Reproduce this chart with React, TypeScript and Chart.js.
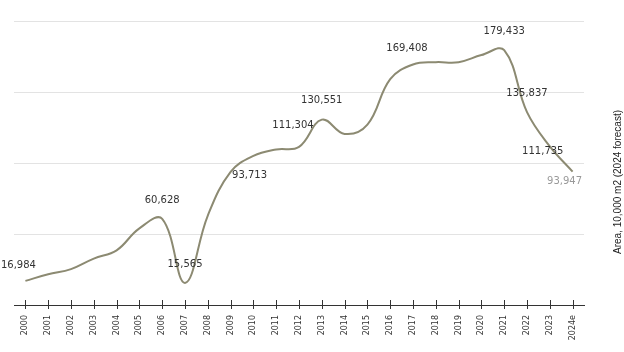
import { useEffect, useRef } from "react";
import { Chart, registerables } from "chart.js";

Chart.register(...registerables);

const years = [
  "2000", "2001", "2002", "2003", "2004", "2005", "2006", "2007", "2008", "2009",
  "2010", "2011", "2012", "2013", "2014", "2015", "2016", "2017", "2018", "2019",
  "2020", "2021", "2022", "2023", "2024e",
];
const areaValues = [
  16984, 21600, 25300, 32700, 38500, 54000, 60628, 15565, 63000, 93713,
  105000, 109500, 111304, 130551, 120500, 127000, 159000, 169408, 171000, 171000,
  176000, 179433, 135837, 111735, 93947,
];
const labeledYears = ["2000", "2006", "2007", "2009", "2012", "2013", "2017", "2021", "2022", "2023", "2024e"];
const yMin = 0;
const yMax = 200000;
const yStep = 50000;
const axisTitle = "Area, 10,000 m2 (2024 forecast)";

const labelOffsets: Record<string, { dx: number; dy: number }> = {
  "2000": { dx: -7, dy: -15 },
  "2006": { dx: 0, dy: -19 },
  "2007": { dx: 0, dy: -18 },
  "2009": { dx: 19, dy: 3 },
  "2012": { dx: -6, dy: -22 },
  "2013": { dx: 0, dy: -19 },
  "2017": { dx: -6, dy: -16 },
  "2021": { dx: 0, dy: -19 },
  "2022": { dx: 0, dy: -19 },
  "2023": { dx: -7, dy: 5 },
  "2024e": { dx: -8, dy: 10 },
};

const decorPlugin = {
  id: "decor",
  afterDraw(chart: any) {
    const ctx = chart.ctx;
    const area = chart.chartArea;
    const xs = chart.scales.x;
    ctx.save();
    ctx.strokeStyle = "#333";
    ctx.lineWidth = 1;
    years.forEach((_, i) => {
      const px = Math.round(xs.getPixelForValue(i)) + 0.5;
      ctx.beginPath();
      ctx.moveTo(px, area.bottom - 5);
      ctx.lineTo(px, area.bottom + 4);
      ctx.stroke();
    });
    const meta = chart.getDatasetMeta(0);
    ctx.font = '10px "DejaVu Sans"';
    ctx.textAlign = "center";
    ctx.textBaseline = "middle";
    labeledYears.forEach((y) => {
      const i = years.indexOf(y);
      const pt = meta.data[i];
      const off = labelOffsets[y] || { dx: 0, dy: -18 };
      ctx.fillStyle = y === "2024e" ? "#999" : "#333";
      ctx.fillText(areaValues[i].toLocaleString("en-US"), pt.x + off.dx, pt.y + off.dy);
    });
    ctx.font = '10px "Liberation Sans", Arial, sans-serif';
    ctx.fillStyle = "#222";
    ctx.translate(chart.width - 6, area.top + 161);
    ctx.rotate(-Math.PI / 2);
    ctx.fillText(axisTitle, 0, 0);
    ctx.restore();
  },
};

export default function App() {
  const ref = useRef<HTMLCanvasElement | null>(null);
  useEffect(() => {
    if (!ref.current) return;
    const chart = new Chart(ref.current, {
      type: "line",
      data: {
        labels: years,
        datasets: [
          {
            data: areaValues,
            borderColor: "#8c8a72",
            borderWidth: 2,
            pointRadius: 0,
            tension: 0.4,
            fill: false,
          },
        ],
      },
      options: {
        responsive: false,
        animation: false,
        devicePixelRatio: 1,
        layout: { padding: { left: 14, right: 40, top: 21, bottom: 0 } },
        plugins: { legend: { display: false }, tooltip: { enabled: false } },
        scales: {
          x: {
            offset: true,
            grid: { display: false, offset: false },
            border: { display: true, color: "#333", width: 1 },
            ticks: {
              maxRotation: 90,
              minRotation: 90,
              padding: 2,
              color: "#333",
              font: { family: '"DejaVu Sans"', size: 8 },
              autoSkip: false,
            },
            afterFit: (s: any) => {
              s.height = 47;
            },
          },
          y: {
            min: yMin,
            max: yMax,
            ticks: { display: false, stepSize: yStep },
            grid: { color: "#e3e3e3", drawTicks: false },
            border: { display: false },
            afterFit: (s: any) => {
              s.width = 0;
            },
          },
        },
      },
      plugins: [decorPlugin],
    });
    return () => chart.destroy();
  }, []);
  return (
    <div style={{ position: "absolute", left: 0, top: 0, width: 624, height: 352 }}>
      <canvas ref={ref} width={624} height={352} />
    </div>
  );
}
